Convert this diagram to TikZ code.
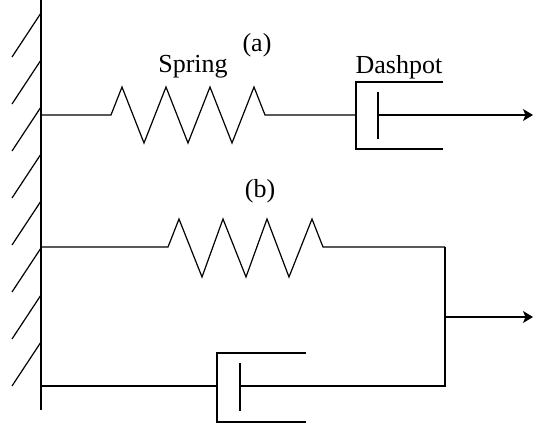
\documentclass[tikz,border=0pt]{standalone}
\usepackage{fontspec}
\setmainfont{Liberation Serif}
\usetikzlibrary{arrows.meta}
\begin{document}
\begin{tikzpicture}[x=1pt,y=-1pt,
  ln/.style={line width=1.2pt,line join=miter},
  lbl/.style={font=\fontsize{26}{30}\selectfont,inner sep=0pt},
  tip/.style={-{Stealth[length=10pt,width=12pt,inset=2.5pt]}}]
\useasboundingbox (0,0) rectangle (533,428);
% wall
\coordinate (wtop) at (41,0);
\coordinate (wbot) at (41,410);
\draw[ln] (wtop) -- (wbot);
\foreach \y in {13,60,107,154,201,248,295,342}
  \draw[ln] (41,\y) -- (12,\y+44);
% (a) spring + dashpot
\coordinate (a0) at (41,115);
\coordinate (as) at (111,115);
\coordinate (ae) at (265,115);
\coordinate (ac) at (356,115);
\coordinate (ap) at (378,115);
\coordinate (aend) at (533,115);
\draw[ln] (a0) -- (as) -- (122,87) -- (144,143) -- (166,87) -- (188,143) -- (210,87) -- (232,143) -- (254,87) -- (ae) -- (ac);
\draw[ln] (443,82) -- (356,82) -- (356,149) -- (443,149);
\draw[ln] (378,92) -- (378,139);
\draw[ln,tip] (ap) -- (aend);
\node[lbl] (la) at (257,45) {(a)};
\node[lbl] (lspring) at (193,67) {Spring};
\node[lbl] (ldash) at (399,67) {Dashpot};
% (b) spring
\coordinate (b0) at (41,247);
\coordinate (bs) at (168,247);
\coordinate (be) at (323,247);
\coordinate (bj) at (445,247);
\draw[ln] (b0) -- (bs) -- (179,219) -- (202,277) -- (223,219) -- (246,277) -- (267,219) -- (289,277) -- (312,219) -- (be) -- (bj);
\node[lbl] (lb) at (260,191) {(b)};
% (b) dashpot
\coordinate (c0) at (41,386);
\coordinate (cc) at (217,386);
\coordinate (cp) at (240,386);
\coordinate (cj) at (445,386);
\draw[ln] (c0) -- (cc);
\draw[ln] (306,353) -- (217,353) -- (217,422) -- (306,422);
\draw[ln] (240,363) -- (240,411);
\draw[ln] (cp) -- (cj) -- (bj);
\coordinate (mj) at (445,317);
\coordinate (mend) at (533,317);
\draw[ln,tip] (mj) -- (mend);
\end{tikzpicture}
\end{document}
